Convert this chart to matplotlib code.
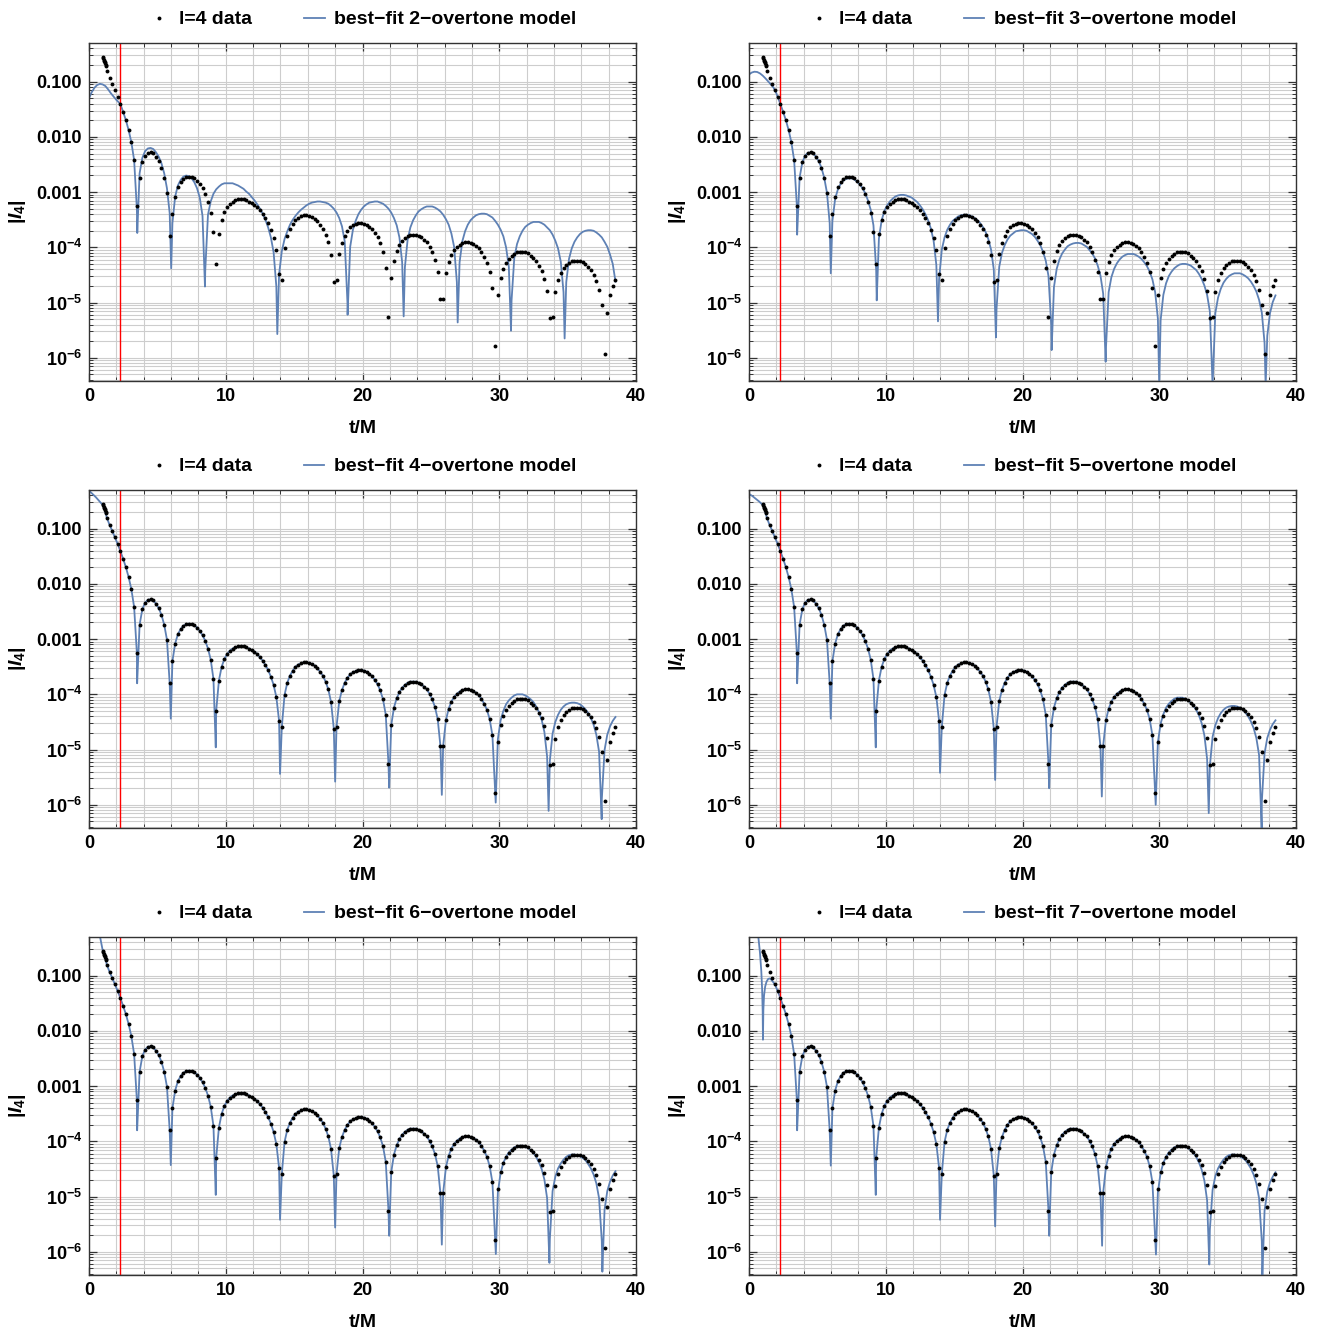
import numpy as np
import matplotlib.pyplot as plt
from matplotlib.lines import Line2D
from matplotlib.ticker import FixedLocator, FixedFormatter, NullFormatter

plt.rcParams['font.family'] = ['Liberation Sans', 'DejaVu Sans']
plt.rcParams['font.weight'] = 'bold'
plt.rcParams['mathtext.fontset'] = 'custom'
plt.rcParams['mathtext.rm'] = 'Liberation Sans:bold'
plt.rcParams['mathtext.it'] = 'Liberation Sans:italic:bold'
plt.rcParams['mathtext.bf'] = 'Liberation Sans:bold'

# ---------------- data (log10 |I4|) ----------------
n_overtones = [2, 3, 4, 5, 6, 7]
t_red = 2.28
t_grid = np.round(1.3 + 0.2 * np.arange(187), 2)   # sampling of the data, 1.3 ... 38.5

# dense clump of samples at the very start
t_cluster = [1.00, 1.04, 1.07, 1.10, 1.14, 1.17, 1.21, 1.25]
logv_cluster = [-0.56, -0.58, -0.60, -0.63, -0.65, -0.67, -0.70, -0.72]

# one row = 10 samples (2 time units)
logv_data = [
    -0.80, -0.93, -1.04, -1.16, -1.28, -1.41, -1.55, -1.70, -1.88, -2.10,   # 1.3
    -2.42, -3.25, -2.74, -2.46, -2.34, -2.29, -2.28, -2.30, -2.36, -2.44,   # 3.3
    -2.56, -2.74, -3.01, -3.80, -3.40, -3.08, -2.91, -2.82, -2.76, -2.73,   # 5.3
    -2.72, -2.73, -2.75, -2.79, -2.85, -2.93, -3.03, -3.17, -3.37, -3.72,   # 7.3
    -4.30, -3.75, -3.50, -3.36, -3.27, -3.21, -3.17, -3.15, -3.13, -3.13,   # 9.3
    -3.13, -3.15, -3.17, -3.20, -3.23, -3.27, -3.33, -3.39, -3.47, -3.56,   # 11.3
    -3.68, -3.83, -4.05, -4.48, -4.59, -4.01, -3.79, -3.66, -3.57, -3.50,   # 13.3
    -3.46, -3.44, -3.42, -3.42, -3.43, -3.45, -3.48, -3.53, -3.59, -3.66,   # 15.3
    -3.77, -3.91, -4.14, -4.62, -4.59, -4.12, -3.92, -3.79, -3.70, -3.64,   # 17.3
    -3.60, -3.58, -3.56, -3.56, -3.57, -3.59, -3.63, -3.67, -3.74, -3.82,   # 19.3
    -3.93, -4.09, -4.37, -5.26, -4.56, -4.24, -4.07, -3.96, -3.88, -3.83,   # 21.3
    -3.79, -3.77, -3.77, -3.77, -3.79, -3.82, -3.86, -3.91, -3.99, -4.09,   # 23.3
    -4.23, -4.45, -4.94, -4.93, -4.47, -4.26, -4.13, -4.05, -3.99, -3.95,   # 25.3
    -3.92, -3.91, -3.91, -3.92, -3.94, -3.97, -4.02, -4.08, -4.17, -4.28,   # 27.3
    -4.45, -4.74, -5.78, -4.87, -4.56, -4.39, -4.28, -4.21, -4.15, -4.12,   # 29.3
    -4.09, -4.08, -4.08, -4.09, -4.11, -4.15, -4.19, -4.25, -4.33, -4.43,   # 31.3
    -4.57, -4.79, -5.28, -5.26, -4.80, -4.59, -4.46, -4.38, -4.32, -4.28,   # 33.3
    -4.25, -4.24, -4.24, -4.25, -4.27, -4.30, -4.35, -4.41, -4.50, -4.61,   # 35.3
    -4.77, -5.05, -5.94, -5.19, -4.87, -4.70, -4.60,                        # 37.3
]

# ---- 2-overtone fit ----
fit2_early_t = [0.0, 0.2, 0.4, 0.6, 0.8, 1.0, 1.2, 1.4, 1.6, 1.8, 2.0, 2.2]
fit2_early_v = [-1.30, -1.19, -1.11, -1.06, -1.04, -1.05, -1.08, -1.14, -1.21, -1.27, -1.33, -1.38]
fit2_grid = [                                                                # from t = 2.3
    -1.41, -1.55, -1.70, -1.88, -2.10, -2.42, -3.30, -2.66, -2.38, -2.26,
    -2.21, -2.20, -2.22, -2.28, -2.36, -2.48, -2.66, -2.93, -3.38, -3.56,
    -3.08, -2.88, -2.78, -2.72, -2.70, -2.71, -2.75, -2.82, -2.93, -3.10,
    -3.43, -4.42, -3.41, -3.17, -3.03, -2.95, -2.90, -2.86, -2.84, -2.84,
    -2.84, -2.84, -2.86, -2.88, -2.91, -2.94, -2.99, -3.03, -3.09, -3.15,
    -3.22, -3.30, -3.39, -3.50, -3.64, -3.82, -4.09, -4.71, -4.49, -4.07,
    -3.85, -3.71, -3.59, -3.50, -3.43, -3.37, -3.32, -3.28, -3.24, -3.21,
    -3.19, -3.18, -3.17, -3.17, -3.18, -3.19, -3.21, -3.25, -3.30, -3.37,
    -3.47, -3.62, -3.89, -5.00, -3.99, -3.68, -3.52, -3.40, -3.32, -3.26,
    -3.22, -3.19, -3.18, -3.17, -3.17, -3.19, -3.21, -3.25, -3.30, -3.37,
    -3.47, -3.60, -3.82, -4.27, -4.36, -3.86, -3.64, -3.51, -3.42, -3.35,
    -3.31, -3.28, -3.26, -3.26, -3.26, -3.28, -3.31, -3.35, -3.41, -3.49,
    -3.59, -3.75, -3.99, -4.63, -4.27, -3.89, -3.71, -3.59, -3.51, -3.46,
    -3.42, -3.40, -3.39, -3.39, -3.40, -3.43, -3.46, -3.52, -3.59, -3.68,
    -3.80, -4.00, -4.35, -4.96, -4.19, -3.94, -3.80, -3.70, -3.63, -3.59,
    -3.56, -3.54, -3.54, -3.54, -3.56, -3.59, -3.64, -3.69, -3.77, -3.88,
    -4.02, -4.26, -4.81, -4.63, -4.21, -4.02, -3.90, -3.82, -3.76, -3.72,
    -3.70, -3.69, -3.69, -3.70, -3.73, -3.77, -3.82, -3.90, -3.99, -4.13,
    -4.30, -4.62,
]
fit2_dip_t = [3.53, 6.01, 8.48, 13.77, 18.91, 23.01, 26.96, 30.86, 34.78]
fit2_dip_v = [-3.74, -4.38, -4.71, -5.57, -5.22, -5.25, -5.36, -5.51, -5.65]

# ---- 3-overtone fit ----
fit3_early_t = [0.0, 0.2, 0.4, 0.6, 0.8, 1.0, 1.2, 1.4, 1.6, 1.8, 2.0, 2.2]
fit3_early_v = [-0.87, -0.835, -0.82, -0.825, -0.85, -0.89, -0.94, -0.995, -1.05, -1.11, -1.21, -1.34]
fit3_grid = [                                                                # from t = 2.3
    -1.41, -1.55, -1.70, -1.88, -2.10, -2.42, -3.25, -2.74, -2.46, -2.34,
    -2.29, -2.28, -2.30, -2.36, -2.44, -2.56, -2.74, -3.01, -3.56, -3.52,
    -3.12, -2.95, -2.85, -2.79, -2.76, -2.75, -2.75, -2.77, -2.81, -2.86,
    -2.93, -3.02, -3.15, -3.32, -3.60, -4.41, -3.84, -3.51, -3.34, -3.24,
    -3.17, -3.12, -3.08, -3.06, -3.05, -3.05, -3.06, -3.08, -3.10, -3.14,
    -3.18, -3.24, -3.31, -3.40, -3.51, -3.66, -3.88, -4.32, -4.58, -4.04,
    -3.82, -3.68, -3.59, -3.52, -3.48, -3.44, -3.42, -3.41, -3.41, -3.42,
    -3.44, -3.47, -3.51, -3.56, -3.63, -3.72, -3.85, -4.04, -4.40, -5.12,
    -4.35, -4.10, -3.96, -3.86, -3.79, -3.75, -3.71, -3.70, -3.69, -3.69,
    -3.70, -3.73, -3.76, -3.81, -3.88, -3.96, -4.08, -4.24, -4.52, -5.40,
    -4.72, -4.39, -4.22, -4.11, -4.04, -3.98, -3.95, -3.93, -3.92, -3.92,
    -3.93, -3.96, -3.99, -4.05, -4.11, -4.20, -4.33, -4.51, -4.84, -5.84,
    -4.81, -4.54, -4.39, -4.29, -4.22, -4.17, -4.14, -4.12, -4.12, -4.12,
    -4.14, -4.17, -4.21, -4.27, -4.34, -4.44, -4.58, -4.81, -5.29, -5.32,
    -4.86, -4.65, -4.52, -4.44, -4.38, -4.34, -4.31, -4.30, -4.30, -4.31,
    -4.33, -4.37, -4.41, -4.48, -4.57, -4.69, -4.86, -5.16, -6.50, -5.19,
    -4.91, -4.75, -4.64, -4.57, -4.52, -4.49, -4.47, -4.47, -4.47, -4.49,
    -4.52, -4.56, -4.62, -4.70, -4.80, -4.95, -5.18, -5.73, -5.60, -5.19,
    -4.99, -4.87,
]
fit3_dip_t = [3.52, 5.98, 9.34, 13.82, 18.06, 22.13, 26.08, 30.00, 37.78]
fit3_dip_v = [-3.77, -4.47, -4.96, -5.34, -5.63, -5.86, -6.07, -6.50, -6.50]

# ---- 4..7-overtone fits: they run through the data up to t = 29.7 ----
fit4_early_t = [0.0, 0.25, 0.5, 0.75, 1.0, 1.15]
fit4_early_v = [-0.31, -0.37, -0.43, -0.50, -0.57, -0.66]
fit4_late = [                                                                # from t = 29.9
    -4.81, -4.47, -4.30, -4.18, -4.11, -4.06, -4.02, -4.00, -4.00, -4.00,
    -4.02, -4.05, -4.09, -4.14, -4.22, -4.32, -4.46, -4.68, -5.13, -5.20,
    -4.71, -4.50, -4.37, -4.28, -4.22, -4.18, -4.16, -4.15, -4.15, -4.16,
    -4.18, -4.22, -4.27, -4.34, -4.43, -4.55, -4.73, -5.04, -5.90, -5.01,
    -4.73, -4.58, -4.48, -4.41,
]
fit4_dip_t = [3.52, 5.98, 9.27, 13.97, 18.00, 21.95, 25.80, 29.74, 33.61, 37.49]
fit4_dip_v = [-3.80, -4.44, -4.96, -5.44, -5.58, -5.69, -5.82, -5.96, -6.11, -6.26]

fit5_early_t = [0.0, 0.25, 0.5, 0.75, 1.0, 1.15]
fit5_early_v = [-0.37, -0.41, -0.46, -0.51, -0.57, -0.66]
fit5_late = [
    -4.87, -4.53, -4.36, -4.24, -4.17, -4.12, -4.08, -4.06, -4.06, -4.06,
    -4.08, -4.11, -4.15, -4.20, -4.28, -4.38, -4.52, -4.74, -5.17, -5.30,
    -4.77, -4.56, -4.43, -4.34, -4.28, -4.24, -4.22, -4.21, -4.21, -4.22,
    -4.24, -4.28, -4.33, -4.40, -4.49, -4.61, -4.79, -5.10, -5.95, -5.07,
    -4.79, -4.64, -4.54, -4.47,
]
fit5_dip_t = [3.52, 5.98, 9.27, 13.97, 18.00, 21.95, 25.80, 29.74, 33.62, 37.49]
fit5_dip_v = [-3.80, -4.44, -4.96, -5.42, -5.55, -5.70, -5.85, -6.00, -6.15, -6.45]

fit6_early_t = [0.70, 0.80, 0.90, 1.00, 1.10, 1.20]
fit6_early_v = [-0.16, -0.29, -0.42, -0.54, -0.62, -0.69]
fit6_late = [
    -4.92, -4.57, -4.39, -4.28, -4.20, -4.15, -4.11, -4.09, -4.08, -4.08,
    -4.10, -4.12, -4.16, -4.21, -4.28, -4.38, -4.50, -4.69, -5.03, -5.77,
    -4.90, -4.64, -4.49, -4.40, -4.33, -4.28, -4.25, -4.24, -4.24, -4.25,
    -4.27, -4.30, -4.34, -4.41, -4.49, -4.60, -4.76, -5.03, -5.81, -5.24,
    -4.90, -4.73, -4.62, -4.54,
]
fit6_dip_t = [3.52, 5.98, 9.27, 13.97, 18.00, 21.95, 25.80, 29.75, 33.67, 37.54]
fit6_dip_v = [-3.80, -4.43, -4.97, -5.42, -5.56, -5.71, -5.87, -6.04, -6.20, -6.36]

fit7_early_t = [0.60, 0.68, 0.80, 0.90, 0.96, 1.00, 1.02, 1.05, 1.10, 1.18, 1.28, 1.40, 1.50, 1.62, 1.75]
fit7_early_v = [-0.10, -0.30, -0.58, -0.92, -1.25, -1.65, -2.16, -1.62, -1.36, -1.20, -1.11, -1.06, -1.05, -1.07, -1.11]
fit7_late = [
    -4.92, -4.57, -4.39, -4.28, -4.20, -4.15, -4.11, -4.09, -4.08, -4.08,
    -4.10, -4.12, -4.16, -4.21, -4.28, -4.38, -4.51, -4.71, -5.07, -5.60,
    -4.88, -4.63, -4.49, -4.40, -4.33, -4.28, -4.25, -4.24, -4.24, -4.25,
    -4.27, -4.30, -4.34, -4.41, -4.49, -4.60, -4.76, -5.03, -5.81, -5.26,
    -4.91, -4.74, -4.64, -4.56,
]
fit7_dip_t = [3.52, 5.98, 9.27, 13.97, 18.00, 21.95, 25.82, 29.76, 33.66, 37.54]
fit7_dip_v = [-3.80, -4.44, -4.97, -5.42, -5.54, -5.71, -5.89, -6.05, -6.23, -6.45]

fits = {
    2: (fit2_early_t, fit2_early_v, fit2_grid, fit2_dip_t, fit2_dip_v),
    3: (fit3_early_t, fit3_early_v, fit3_grid, fit3_dip_t, fit3_dip_v),
    4: (fit4_early_t, fit4_early_v, logv_data[:143] + fit4_late, fit4_dip_t, fit4_dip_v),
    5: (fit5_early_t, fit5_early_v, logv_data[:143] + fit5_late, fit5_dip_t, fit5_dip_v),
    6: (fit6_early_t, fit6_early_v, logv_data[:143] + fit6_late, fit6_dip_t, fit6_dip_v),
    7: (fit7_early_t, fit7_early_v, logv_data[3:143] + fit7_late, fit7_dip_t, fit7_dip_v),
}


def model_curve(early_t, early_v, grid_v, dip_t, dip_v):
    gt = t_grid[len(t_grid) - len(grid_v):]
    t = np.concatenate([early_t, gt, dip_t])
    v = np.concatenate([early_v, grid_v, dip_v])
    order = np.argsort(t)
    return t[order], 10.0 ** v[order]


t_data = np.concatenate([t_cluster, t_grid])
v_data = 10.0 ** np.array(logv_cluster + logv_data)

blue = '#5E81B5'
W, H = 1321, 1335
fig = plt.figure(figsize=(W / 100, H / 100), dpi=100)

cols = [89, 749]
tops = [43, 490, 937]
aw, ah = 547, 338

yt = [1e-6, 1e-5, 1e-4, 1e-3, 1e-2, 1e-1]
ytl = ['$10^{-6}$', '$10^{-5}$', '$10^{-4}$', '0.001', '0.010', '0.100']
yminor = [m * 10.0 ** e for e in range(-7, 0) for m in range(2, 10)]

for i, n in enumerate(n_overtones):
    r, c = divmod(i, 2)
    ax = fig.add_axes([cols[c] / W, 1 - (tops[r] + ah) / H, aw / W, ah / H])
    ax.set_yscale('log')

    tm, vm = model_curve(*fits[n])
    ax.plot(tm, vm, color=blue, lw=1.3, zorder=2)
    ax.plot(t_data, v_data, 'o', color='black', ms=2.8, mec='none', zorder=3)
    ax.axvline(t_red, color='red', lw=1.0, zorder=2.5)

    ax.set_xlim(0, 40)
    ax.set_ylim(10 ** -6.42, 10 ** -0.30)
    ax.xaxis.set_major_locator(FixedLocator([0, 10, 20, 30, 40]))
    ax.xaxis.set_minor_locator(FixedLocator(np.arange(0, 41, 2)))
    ax.yaxis.set_major_locator(FixedLocator(yt))
    ax.yaxis.set_major_formatter(FixedFormatter(ytl))
    ax.yaxis.set_minor_locator(FixedLocator(yminor))
    ax.yaxis.set_minor_formatter(NullFormatter())

    ax.grid(which='both', color='#cdcdcd', lw=0.8, zorder=0)
    ax.set_axisbelow(True)
    ax.tick_params(which='both', direction='in', top=True, right=True, color='#333333')
    ax.tick_params(which='major', length=6, width=0.9, labelsize=13, pad=5)
    ax.tick_params(which='minor', length=3, width=0.7)
    for s in ax.spines.values():
        s.set_linewidth(1.0)
        s.set_color('#333333')

    ax.set_xlabel('t/M', fontsize=14, fontweight='bold')
    ax.xaxis.set_label_coords(0.5, -0.115)
    ax.set_ylabel('$|I_4|$', fontsize=14)
    ax.yaxis.set_label_coords(-0.112, 0.5)

    handles = [
        Line2D([], [], marker='o', ls='', color='black', ms=2.8, mec='none', label='l=4 data'),
        Line2D([], [], color=blue, lw=1.3, label=f'best\u2212fit {n}\u2212overtone model'),
    ]
    ax.legend(handles=handles, loc='lower center', bbox_to_anchor=(0.5, 1.0), ncol=2,
              frameon=False, prop={'size': 14, 'weight': 'bold'}, handlelength=1.05,
              handletextpad=0.5, columnspacing=2.7, borderaxespad=0.35)

fig.savefig('out.png', dpi=100)
